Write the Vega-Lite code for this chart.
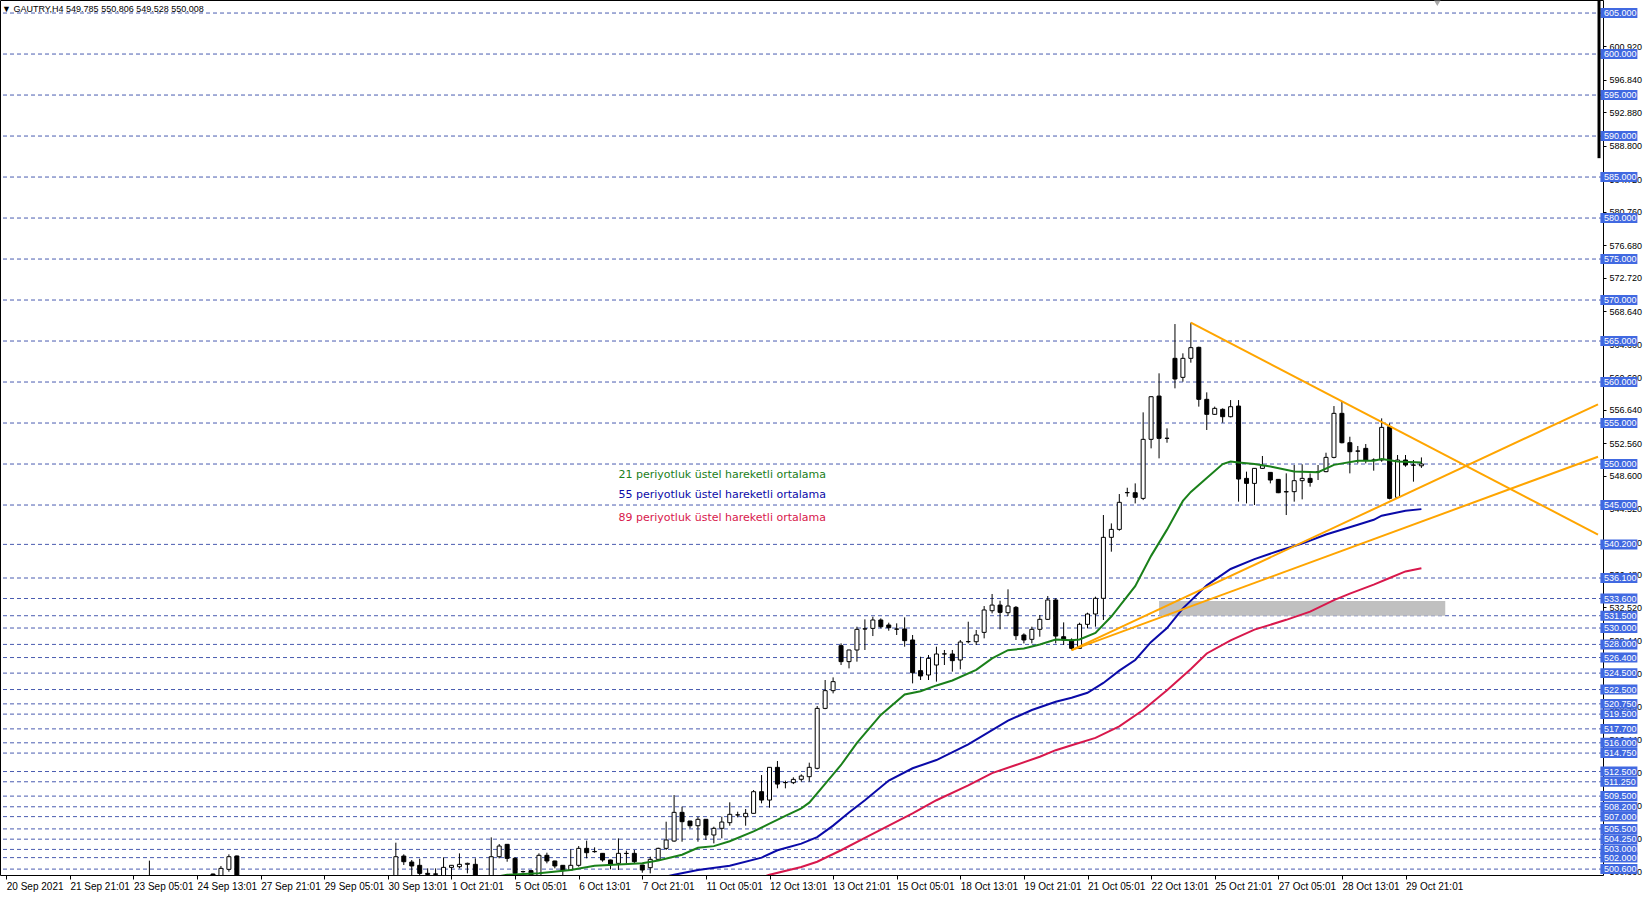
{
  "$schema": "https://vega.github.io/schema/vega-lite/v6.json",
  "width": 1603,
  "height": 875,
  "autosize": {"type": "none"},
  "padding": {"left": 0, "top": 0, "right": 47, "bottom": 22},
  "background": "white",
  "config": {
    "view": {"stroke": "black", "strokeWidth": 1},
    "font": "Liberation Sans"
  },
  "title": {
    "text": "▼ GAUTRY,H4  549.785 550.806 549.528 550.008",
    "anchor": "start",
    "frame": "group",
    "offset": -15,
    "dx": 2,
    "fontSize": 9,
    "fontWeight": "normal",
    "font": "Liberation Sans",
    "color": "black"
  },
  "resolve": {"axis": {"x": "independent", "y": "independent"}},
  "datasets": {
    "levels": [
      {"v": 605}, {"v": 600}, {"v": 595}, {"v": 590}, {"v": 585}, {"v": 580}, {"v": 575}, {"v": 570},
      {"v": 565}, {"v": 560}, {"v": 555}, {"v": 550}, {"v": 545}, {"v": 540.2}, {"v": 536.1}, {"v": 533.6},
      {"v": 531.5}, {"v": 530}, {"v": 528}, {"v": 526.4}, {"v": 524.5}, {"v": 522.5}, {"v": 520.75}, {"v": 519.5},
      {"v": 517.7}, {"v": 516}, {"v": 514.75}, {"v": 512.5}, {"v": 511.25}, {"v": 509.5}, {"v": 508.2}, {"v": 507},
      {"v": 505.5}, {"v": 504.25}, {"v": 503}, {"v": 502}, {"v": 500.6}
    ],
    "ticks": [
      {"v": 600.92}, {"v": 596.84}, {"v": 592.88}, {"v": 588.8}, {"v": 584.72}, {"v": 580.76}, {"v": 576.68},
      {"v": 572.72}, {"v": 568.64}, {"v": 564.6}, {"v": 560.6}, {"v": 556.64}, {"v": 552.56}, {"v": 548.6},
      {"v": 544.52}, {"v": 540.44}, {"v": 536.48}, {"v": 532.52}, {"v": 528.44}, {"v": 524.48}, {"v": 520.4},
      {"v": 516.44}, {"v": 512.36}, {"v": 508.4}, {"v": 504.32}, {"v": 500.36}
    ],
    "zone": [{"i1": 145, "i2": 181, "p1": 531.5, "p2": 533.3}],
    "trend": [
      {"id": "a", "i": 149, "p": 567.24}, {"id": "a", "i": 200.2125, "p": 541.4},
      {"id": "b", "i": 134, "p": 527.3}, {"id": "b", "i": 200.2125, "p": 557.28},
      {"id": "c", "i": 134, "p": 527.3}, {"id": "c", "i": 200.2125, "p": 550.89}
    ],
    "notes": [
      {"s": "21", "t": "21 periyotluk üstel hareketli ortalama", "i": 77.0, "p": 548.66},
      {"s": "55", "t": "55 periyotluk üstel hareketli ortalama", "i": 77.0, "p": 546.22},
      {"s": "89", "t": "89 periyotluk üstel hareketli ortalama", "i": 77.0, "p": 543.38}
    ],
    "ma": [
      {"s":"21","i":60,"v":499.4},{"s":"21","i":63,"v":499.9},{"s":"21","i":67,"v":500.1},{"s":"21","i":71,"v":500.5},
      {"s":"21","i":74,"v":501.0},{"s":"21","i":77,"v":501.15},{"s":"21","i":80,"v":501.3},{"s":"21","i":82,"v":501.65},
      {"s":"21","i":85,"v":502.35},{"s":"21","i":87,"v":503.2},{"s":"21","i":89,"v":503.4},{"s":"21","i":91,"v":504.0},
      {"s":"21","i":94,"v":505.2},{"s":"21","i":96,"v":506.15},{"s":"21","i":98,"v":507.1},{"s":"21","i":100,"v":508.0},
      {"s":"21","i":101,"v":508.7},{"s":"21","i":103,"v":511.0},{"s":"21","i":105,"v":513.3},{"s":"21","i":107,"v":516.0},
      {"s":"21","i":110,"v":519.4},{"s":"21","i":113,"v":521.9},{"s":"21","i":115,"v":522.3},{"s":"21","i":117,"v":523.0},
      {"s":"21","i":119,"v":523.6},{"s":"21","i":122,"v":524.9},{"s":"21","i":124,"v":526.3},{"s":"21","i":126,"v":527.3},
      {"s":"21","i":128,"v":527.5},{"s":"21","i":130,"v":528.0},{"s":"21","i":132,"v":528.6},{"s":"21","i":134,"v":528.5},
      {"s":"21","i":135,"v":528.6},{"s":"21","i":137,"v":529.4},{"s":"21","i":139,"v":531.4},{"s":"21","i":142,"v":535.1},
      {"s":"21","i":144,"v":538.8},{"s":"21","i":146,"v":542.0},{"s":"21","i":148,"v":545.5},{"s":"21","i":149,"v":546.6},
      {"s":"21","i":151,"v":548.3},{"s":"21","i":153,"v":550.0},{"s":"21","i":154,"v":550.3},{"s":"21","i":155,"v":550.2},
      {"s":"21","i":157,"v":550.0},{"s":"21","i":159,"v":549.7},{"s":"21","i":162,"v":549.1},{"s":"21","i":165,"v":549.0},
      {"s":"21","i":167,"v":549.9},{"s":"21","i":170,"v":550.4},{"s":"21","i":172,"v":550.4},{"s":"21","i":173,"v":550.6},
      {"s":"21","i":175,"v":550.3},{"s":"21","i":178,"v":550.2},
      {"s":"55","i":82,"v":499.5},{"s":"55","i":84,"v":499.9},{"s":"55","i":87,"v":500.5},{"s":"55","i":91,"v":501.0},
      {"s":"55","i":95,"v":502.0},{"s":"55","i":97,"v":502.9},{"s":"55","i":100,"v":503.7},{"s":"55","i":102,"v":504.5},
      {"s":"55","i":104,"v":505.9},{"s":"55","i":106,"v":507.5},{"s":"55","i":108,"v":509.0},{"s":"55","i":111,"v":511.4},
      {"s":"55","i":114,"v":512.9},{"s":"55","i":117,"v":513.9},{"s":"55","i":121,"v":515.8},{"s":"55","i":126,"v":518.7},
      {"s":"55","i":129,"v":520.0},{"s":"55","i":132,"v":521.0},{"s":"55","i":134,"v":521.5},{"s":"55","i":136,"v":522.1},
      {"s":"55","i":138,"v":523.3},{"s":"55","i":140,"v":524.8},{"s":"55","i":142,"v":526.1},{"s":"55","i":144,"v":528.3},
      {"s":"55","i":146,"v":530.0},{"s":"55","i":148,"v":532.4},{"s":"55","i":151,"v":535.2},{"s":"55","i":154,"v":537.2},
      {"s":"55","i":157,"v":538.4},{"s":"55","i":160,"v":539.4},{"s":"55","i":163,"v":540.3},{"s":"55","i":166,"v":541.4},
      {"s":"55","i":170,"v":542.6},{"s":"55","i":172,"v":543.2},{"s":"55","i":173,"v":543.7},{"s":"55","i":176,"v":544.3},
      {"s":"55","i":178,"v":544.5},
      {"s":"89","i":94,"v":499.3},{"s":"89","i":96,"v":499.9},{"s":"89","i":100,"v":500.85},{"s":"89","i":102,"v":501.5},
      {"s":"89","i":105,"v":502.9},{"s":"89","i":108,"v":504.4},{"s":"89","i":111,"v":505.9},{"s":"89","i":114,"v":507.4},
      {"s":"89","i":117,"v":509.0},{"s":"89","i":121,"v":510.8},{"s":"89","i":124,"v":512.3},{"s":"89","i":127,"v":513.3},
      {"s":"89","i":130,"v":514.3},{"s":"89","i":132,"v":515.1},{"s":"89","i":134,"v":515.7},{"s":"89","i":137,"v":516.6},
      {"s":"89","i":140,"v":518.0},{"s":"89","i":143,"v":520.0},{"s":"89","i":146,"v":522.4},{"s":"89","i":149,"v":525.0},
      {"s":"89","i":151,"v":526.9},{"s":"89","i":154,"v":528.5},{"s":"89","i":157,"v":529.8},{"s":"89","i":161,"v":531.0},
      {"s":"89","i":164,"v":532.0},{"s":"89","i":167,"v":533.4},{"s":"89","i":169,"v":534.2},{"s":"89","i":172,"v":535.3},
      {"s":"89","i":174,"v":536.1},{"s":"89","i":176,"v":536.9},{"s":"89","i":178,"v":537.3}
    ],
    "candles": [
      {"i":18,"o":499.3,"h":501.63,"l":498.9,"c":499.0},
      {"i":26,"o":500.0,"h":500.05,"l":499.3,"c":499.5},
      {"i":27,"o":499.6,"h":500.98,"l":499.4,"c":500.69},
      {"i":28,"o":500.57,"h":502.4,"l":500.28,"c":502.11},
      {"i":29,"o":502.2,"h":502.25,"l":499.3,"c":499.5},
      {"i":49,"o":499.6,"h":503.82,"l":499.3,"c":502.11},
      {"i":50,"o":502.19,"h":502.4,"l":501.1,"c":501.5},
      {"i":51,"o":501.46,"h":501.71,"l":499.8,"c":500.98},
      {"i":52,"o":501.06,"h":501.87,"l":499.7,"c":500.08},
      {"i":53,"o":500.08,"h":500.69,"l":499.7,"c":499.95},
      {"i":54,"o":500.02,"h":500.69,"l":499.7,"c":499.96},
      {"i":55,"o":499.7,"h":502.03,"l":499.5,"c":500.81},
      {"i":56,"o":500.81,"h":501.1,"l":499.7,"c":501.06},
      {"i":57,"o":500.89,"h":502.52,"l":500.69,"c":501.18},
      {"i":58,"o":501.18,"h":501.38,"l":500.08,"c":501.3},
      {"i":59,"o":501.18,"h":501.91,"l":499.5,"c":499.7},
      {"i":61,"o":499.7,"h":504.47,"l":499.4,"c":502.11},
      {"i":62,"o":502.11,"h":503.66,"l":501.91,"c":503.41},
      {"i":63,"o":503.62,"h":503.66,"l":501.5,"c":501.91},
      {"i":64,"o":501.91,"h":502.03,"l":499.8,"c":500.08},
      {"i":65,"o":500.28,"h":500.4,"l":500.16,"c":500.3},
      {"i":66,"o":500.41,"h":500.45,"l":499.6,"c":499.8},
      {"i":67,"o":499.8,"h":502.52,"l":499.6,"c":502.28},
      {"i":68,"o":502.28,"h":502.6,"l":501.3,"c":501.59},
      {"i":69,"o":501.59,"h":501.62,"l":500.69,"c":500.98},
      {"i":70,"o":501.06,"h":501.08,"l":499.8,"c":500.49},
      {"i":71,"o":500.49,"h":503.01,"l":500.45,"c":501.06},
      {"i":72,"o":501.06,"h":503.41,"l":500.89,"c":503.13},
      {"i":73,"o":503.13,"h":504.07,"l":501.91,"c":502.6},
      {"i":74,"o":502.72,"h":503.25,"l":502.6,"c":502.75},
      {"i":75,"o":502.52,"h":502.55,"l":501.5,"c":501.71},
      {"i":76,"o":501.71,"h":501.75,"l":500.57,"c":501.18},
      {"i":77,"o":501.3,"h":504.35,"l":500.49,"c":502.52},
      {"i":78,"o":502.52,"h":502.85,"l":501.3,"c":502.5},
      {"i":79,"o":502.52,"h":502.93,"l":501.3,"c":501.5},
      {"i":80,"o":501.1,"h":501.12,"l":500.16,"c":500.49},
      {"i":81,"o":500.77,"h":502.11,"l":500.08,"c":501.79},
      {"i":82,"o":501.79,"h":503.21,"l":501.71,"c":503.13},
      {"i":83,"o":503.13,"h":506.38,"l":502.93,"c":504.15},
      {"i":84,"o":504.02,"h":509.63,"l":503.94,"c":507.52},
      {"i":85,"o":507.52,"h":508.21,"l":503.94,"c":506.38},
      {"i":86,"o":506.46,"h":506.5,"l":505.57,"c":505.89},
      {"i":87,"o":505.89,"h":506.99,"l":503.94,"c":506.67},
      {"i":88,"o":506.67,"h":506.7,"l":504.15,"c":504.76},
      {"i":89,"o":504.76,"h":505.77,"l":503.74,"c":505.57},
      {"i":90,"o":505.57,"h":506.99,"l":504.35,"c":506.34},
      {"i":91,"o":506.26,"h":508.74,"l":505.89,"c":507.28},
      {"i":92,"o":507.2,"h":507.6,"l":506.91,"c":507.22},
      {"i":93,"o":506.99,"h":507.93,"l":505.89,"c":507.4},
      {"i":94,"o":507.4,"h":510.24,"l":507.38,"c":510.04},
      {"i":95,"o":510.04,"h":512.07,"l":508.62,"c":509.02},
      {"i":96,"o":509.02,"h":513.05,"l":508.09,"c":513.01},
      {"i":97,"o":513.01,"h":513.78,"l":510.45,"c":510.97},
      {"i":98,"o":511.14,"h":511.38,"l":510.45,"c":511.16},
      {"i":99,"o":511.14,"h":511.79,"l":510.97,"c":511.54},
      {"i":100,"o":511.55,"h":512.15,"l":511.26,"c":511.95},
      {"i":101,"o":511.87,"h":513.58,"l":511.26,"c":513.01},
      {"i":102,"o":512.89,"h":520.49,"l":512.76,"c":520.2},
      {"i":103,"o":520.2,"h":523.66,"l":520.1,"c":522.36},
      {"i":104,"o":522.36,"h":523.98,"l":522.03,"c":523.46},
      {"i":105,"o":527.85,"h":528.13,"l":525.49,"c":525.9},
      {"i":106,"o":525.9,"h":527.35,"l":525.08,"c":527.32},
      {"i":107,"o":527.32,"h":530.16,"l":525.9,"c":529.84},
      {"i":108,"o":529.88,"h":531.06,"l":527.32,"c":529.9},
      {"i":109,"o":529.96,"h":531.38,"l":529.02,"c":530.98},
      {"i":110,"o":530.98,"h":531.18,"l":529.96,"c":530.16},
      {"i":111,"o":530.37,"h":530.65,"l":529.67,"c":530.04},
      {"i":112,"o":529.88,"h":530.57,"l":529.15,"c":529.86},
      {"i":113,"o":529.88,"h":531.3,"l":527.72,"c":528.46},
      {"i":114,"o":528.54,"h":529.15,"l":523.25,"c":524.55},
      {"i":115,"o":524.8,"h":526.5,"l":523.66,"c":524.15},
      {"i":116,"o":524.27,"h":526.71,"l":523.66,"c":526.3},
      {"i":117,"o":525.49,"h":527.72,"l":523.46,"c":526.83},
      {"i":118,"o":526.83,"h":527.32,"l":525.49,"c":526.85},
      {"i":119,"o":526.83,"h":527.32,"l":524.68,"c":526.02},
      {"i":120,"o":526.1,"h":528.54,"l":524.96,"c":528.29},
      {"i":121,"o":528.33,"h":530.77,"l":528.13,"c":528.35},
      {"i":122,"o":528.33,"h":529.76,"l":527.93,"c":529.15},
      {"i":123,"o":529.47,"h":532.68,"l":528.74,"c":532.2},
      {"i":124,"o":532.11,"h":534.15,"l":531.79,"c":532.8},
      {"i":125,"o":532.8,"h":533.33,"l":529.84,"c":531.91},
      {"i":126,"o":531.87,"h":534.72,"l":531.46,"c":532.68},
      {"i":127,"o":532.52,"h":532.68,"l":528.54,"c":529.07},
      {"i":128,"o":529.15,"h":529.35,"l":528.13,"c":528.54},
      {"i":129,"o":528.62,"h":530.16,"l":528.13,"c":529.84},
      {"i":130,"o":529.84,"h":531.59,"l":528.94,"c":531.06},
      {"i":131,"o":531.06,"h":533.9,"l":530.98,"c":533.42},
      {"i":132,"o":533.42,"h":533.62,"l":528.13,"c":529.02},
      {"i":133,"o":528.94,"h":530.69,"l":527.93,"c":528.54},
      {"i":134,"o":528.54,"h":528.74,"l":527.3,"c":527.52},
      {"i":135,"o":527.52,"h":530.65,"l":527.5,"c":530.45},
      {"i":136,"o":530.45,"h":531.87,"l":529.96,"c":531.71},
      {"i":137,"o":531.71,"h":533.82,"l":530.16,"c":533.62},
      {"i":138,"o":533.62,"h":543.78,"l":530.98,"c":541.06},
      {"i":139,"o":541.06,"h":542.76,"l":539.31,"c":542.03},
      {"i":140,"o":542.03,"h":546.34,"l":541.87,"c":545.33},
      {"i":141,"o":546.5,"h":547.11,"l":546.02,"c":546.52},
      {"i":142,"o":546.5,"h":547.64,"l":545.2,"c":545.94},
      {"i":143,"o":545.81,"h":556.3,"l":545.6,"c":553.01},
      {"i":144,"o":553.01,"h":558.25,"l":551.91,"c":558.21},
      {"i":145,"o":558.29,"h":561.06,"l":550.69,"c":553.13},
      {"i":146,"o":553.13,"h":554.35,"l":552.6,"c":553.15},
      {"i":147,"o":562.89,"h":567.07,"l":559.23,"c":560.37},
      {"i":148,"o":560.57,"h":563.5,"l":560.04,"c":562.89},
      {"i":149,"o":562.89,"h":567.24,"l":562.36,"c":564.19},
      {"i":150,"o":564.23,"h":564.31,"l":557.0,"c":557.89},
      {"i":151,"o":557.89,"h":558.74,"l":554.15,"c":556.06},
      {"i":152,"o":556.06,"h":557.0,"l":555.98,"c":556.79},
      {"i":153,"o":556.67,"h":556.79,"l":555.04,"c":555.77},
      {"i":154,"o":555.77,"h":557.8,"l":555.69,"c":556.99},
      {"i":155,"o":557.07,"h":557.8,"l":545.41,"c":548.17},
      {"i":156,"o":548.25,"h":549.07,"l":545.2,"c":547.64},
      {"i":157,"o":547.64,"h":549.5,"l":545.0,"c":549.47},
      {"i":158,"o":549.47,"h":550.98,"l":549.45,"c":549.8},
      {"i":159,"o":548.98,"h":549.0,"l":547.64,"c":548.05},
      {"i":160,"o":548.13,"h":548.15,"l":546.45,"c":546.5},
      {"i":161,"o":546.63,"h":548.86,"l":543.78,"c":546.6},
      {"i":162,"o":546.63,"h":549.88,"l":545.41,"c":547.97},
      {"i":163,"o":547.97,"h":549.96,"l":545.69,"c":548.25},
      {"i":164,"o":548.25,"h":548.86,"l":547.24,"c":547.76},
      {"i":165,"o":549.07,"h":549.88,"l":548.05,"c":549.05},
      {"i":166,"o":549.07,"h":551.38,"l":549.0,"c":550.81},
      {"i":167,"o":550.81,"h":557.07,"l":550.69,"c":556.18},
      {"i":168,"o":556.18,"h":557.6,"l":552.52,"c":552.6},
      {"i":169,"o":552.6,"h":553.33,"l":548.86,"c":551.5},
      {"i":170,"o":551.59,"h":552.2,"l":550.08,"c":551.57},
      {"i":171,"o":551.91,"h":552.44,"l":550.08,"c":550.49},
      {"i":172,"o":550.49,"h":550.69,"l":549.19,"c":550.47},
      {"i":173,"o":550.49,"h":555.57,"l":550.28,"c":554.47},
      {"i":174,"o":554.55,"h":554.96,"l":545.69,"c":545.81},
      {"i":175,"o":545.93,"h":551.1,"l":545.81,"c":550.49},
      {"i":176,"o":550.49,"h":551.1,"l":549.67,"c":549.88},
      {"i":177,"o":549.88,"h":550.49,"l":547.85,"c":549.86},
      {"i":178,"o":549.785,"h":550.806,"l":549.528,"c":550.008}
    ]
  },
  "layer": [
    {
      "data": {"name": "levels"},
      "mark": {"type": "rule", "color": "#4a5cb0", "strokeWidth": 1, "strokeDash": [4, 3]},
      "encoding": {
        "y": {"field": "v", "type": "quantitative", "scale": {"domain": [499.88, 606.59], "nice": false, "zero": false}, "axis": null}
      }
    },
    {
      "data": {"name": "ticks"},
      "mark": {"type": "tick", "opacity": 0},
      "encoding": {
        "y": {
          "field": "v", "type": "quantitative",
          "scale": {"domain": [499.88, 606.59], "nice": false, "zero": false},
          "axis": {
            "orient": "right",
            "title": null,
            "values": [600.92, 596.84, 592.88, 588.8, 584.72, 580.76, 576.68, 572.72, 568.64, 564.6, 560.6, 556.64, 552.56, 548.6, 544.52, 540.44, 536.48, 532.52, 528.44, 524.48, 520.4, 516.44, 512.36, 508.4, 504.32, 500.36],
            "format": ".3f",
            "labelFont": "Liberation Sans",
            "labelFontSize": 9,
            "labelColor": "black",
            "labelPadding": 3,
            "labelOverlap": false,
            "labelFlush": false,
            "tickColor": "black",
            "tickSize": 3,
            "domain": false,
            "grid": false
          }
        }
      }
    },
    {
      "data": {"name": "zone"},
      "mark": {"type": "rect", "color": "#c0c0c0", "clip": true},
      "encoding": {
        "x": {"field": "i1", "type": "quantitative", "scale": {"domain": [-0.1625, 200.2125], "nice": false, "zero": false}, "axis": null},
        "x2": {"field": "i2"},
        "y": {"field": "p1", "type": "quantitative", "scale": {"domain": [499.88, 606.59], "nice": false, "zero": false}, "axis": null},
        "y2": {"field": "p2"}
      }
    },
    {
      "data": {"name": "candles"},
      "mark": {"type": "rule", "color": "black", "strokeWidth": 1, "clip": true},
      "encoding": {
        "x": {
          "field": "i", "type": "quantitative",
          "scale": {"domain": [-0.1625, 200.2125], "nice": false, "zero": false},
          "axis": {
            "title": null,
            "values": [0, 8, 16, 24, 32, 40, 48, 56, 64, 72, 80, 88, 96, 104, 112, 120, 128, 136, 144, 152, 160, 168, 176],
            "labelExpr": "['20 Sep 2021','21 Sep 21:01','23 Sep 05:01','24 Sep 13:01','27 Sep 21:01','29 Sep 05:01','30 Sep 13:01','1 Oct 21:01','5 Oct 05:01','6 Oct 13:01','7 Oct 21:01','11 Oct 05:01','12 Oct 13:01','13 Oct 21:01','15 Oct 05:01','18 Oct 13:01','19 Oct 21:01','21 Oct 05:01','22 Oct 13:01','25 Oct 21:01','27 Oct 05:01','28 Oct 13:01','29 Oct 21:01'][round(datum.value/8)]",
            "labelAlign": "left",
            "labelFont": "Liberation Sans",
            "labelFontSize": 10,
            "labelColor": "black",
            "labelPadding": 2,
            "labelOverlap": false,
            "labelFlush": false,
            "tickColor": "black",
            "tickSize": 4,
            "domain": false,
            "grid": false
          }
        },
        "y": {"field": "l", "type": "quantitative", "scale": {"domain": [499.88, 606.59], "nice": false, "zero": false}, "axis": null},
        "y2": {"field": "h"}
      }
    },
    {
      "data": {"name": "candles"},
      "mark": {"type": "bar", "size": 4, "stroke": "black", "strokeWidth": 1, "clip": true},
      "encoding": {
        "x": {"field": "i", "type": "quantitative", "scale": {"domain": [-0.1625, 200.2125], "nice": false, "zero": false}, "axis": null},
        "y": {"field": "o", "type": "quantitative", "scale": {"domain": [499.88, 606.59], "nice": false, "zero": false}, "axis": null},
        "y2": {"field": "c"},
        "fill": {"condition": {"test": "datum.c >= datum.o", "value": "white"}, "value": "black"}
      }
    },
    {
      "data": {"name": "ma"},
      "mark": {"type": "line", "strokeWidth": 2, "clip": true},
      "encoding": {
        "x": {"field": "i", "type": "quantitative", "scale": {"domain": [-0.1625, 200.2125], "nice": false, "zero": false}, "axis": null},
        "y": {"field": "v", "type": "quantitative", "scale": {"domain": [499.88, 606.59], "nice": false, "zero": false}, "axis": null},
        "color": {"field": "s", "type": "nominal", "scale": {"domain": ["21", "55", "89"], "range": ["#1a801a", "#0a0aa8", "#d8184c"]}, "legend": null},
        "detail": {"field": "s"}
      }
    },
    {
      "data": {"name": "trend"},
      "mark": {"type": "line", "strokeWidth": 2, "color": "#ffa500", "clip": true},
      "encoding": {
        "x": {"field": "i", "type": "quantitative", "scale": {"domain": [-0.1625, 200.2125], "nice": false, "zero": false}, "axis": null},
        "y": {"field": "p", "type": "quantitative", "scale": {"domain": [499.88, 606.59], "nice": false, "zero": false}, "axis": null},
        "detail": {"field": "id"}
      }
    },
    {
      "data": {"name": "notes"},
      "mark": {"type": "text", "align": "left", "baseline": "middle", "font": "DejaVu Sans", "fontSize": 11},
      "encoding": {
        "x": {"field": "i", "type": "quantitative", "scale": {"domain": [-0.1625, 200.2125], "nice": false, "zero": false}, "axis": null},
        "y": {"field": "p", "type": "quantitative", "scale": {"domain": [499.88, 606.59], "nice": false, "zero": false}, "axis": null},
        "text": {"field": "t"},
        "color": {"field": "s", "type": "nominal", "scale": {"domain": ["21", "55", "89"], "range": ["#1a801a", "#0a0aa8", "#d8184c"]}, "legend": null}
      }
    },
    {
      "data": {"name": "levels"},
      "mark": {"type": "point", "shape": "M-1,-0.27L1,-0.27L1,0.27L-1,0.27Z", "size": 1369, "filled": true, "color": "#4169e1", "opacity": 1, "strokeWidth": 0},
      "encoding": {
        "x": {"datum": 202.84, "type": "quantitative", "scale": {"domain": [-0.1625, 200.2125], "nice": false, "zero": false}, "axis": null},
        "y": {"field": "v", "type": "quantitative", "scale": {"domain": [499.88, 606.59], "nice": false, "zero": false}, "axis": null}
      }
    },
    {
      "data": {"name": "levels"},
      "mark": {"type": "text", "align": "left", "baseline": "middle", "font": "Liberation Sans", "fontSize": 9, "color": "white"},
      "encoding": {
        "x": {"datum": 200.96, "type": "quantitative", "scale": {"domain": [-0.1625, 200.2125], "nice": false, "zero": false}, "axis": null},
        "y": {"field": "v", "type": "quantitative", "scale": {"domain": [499.88, 606.59], "nice": false, "zero": false}, "axis": null},
        "text": {"field": "v", "type": "quantitative", "format": ".3f"}
      }
    },
    {
      "data": {"values": [{}]},
      "mark": {"type": "rule", "color": "black", "strokeWidth": 3},
      "encoding": {
        "x": {"datum": 200.34, "type": "quantitative", "scale": {"domain": [-0.1625, 200.2125], "nice": false, "zero": false}, "axis": null},
        "y": {"datum": 606.59, "type": "quantitative", "scale": {"domain": [499.88, 606.59], "nice": false, "zero": false}, "axis": null},
        "y2": {"datum": 587.3}
      }
    },
    {
      "data": {"values": [{}]},
      "mark": {"type": "point", "shape": "triangle-down", "size": 40, "filled": true, "color": "#a8a8a8", "opacity": 1},
      "encoding": {
        "x": {"datum": 180.0, "type": "quantitative", "scale": {"domain": [-0.1625, 200.2125], "nice": false, "zero": false}, "axis": null},
        "y": {"datum": 606.2, "type": "quantitative", "scale": {"domain": [499.88, 606.59], "nice": false, "zero": false}, "axis": null}
      }
    }
  ]
}
